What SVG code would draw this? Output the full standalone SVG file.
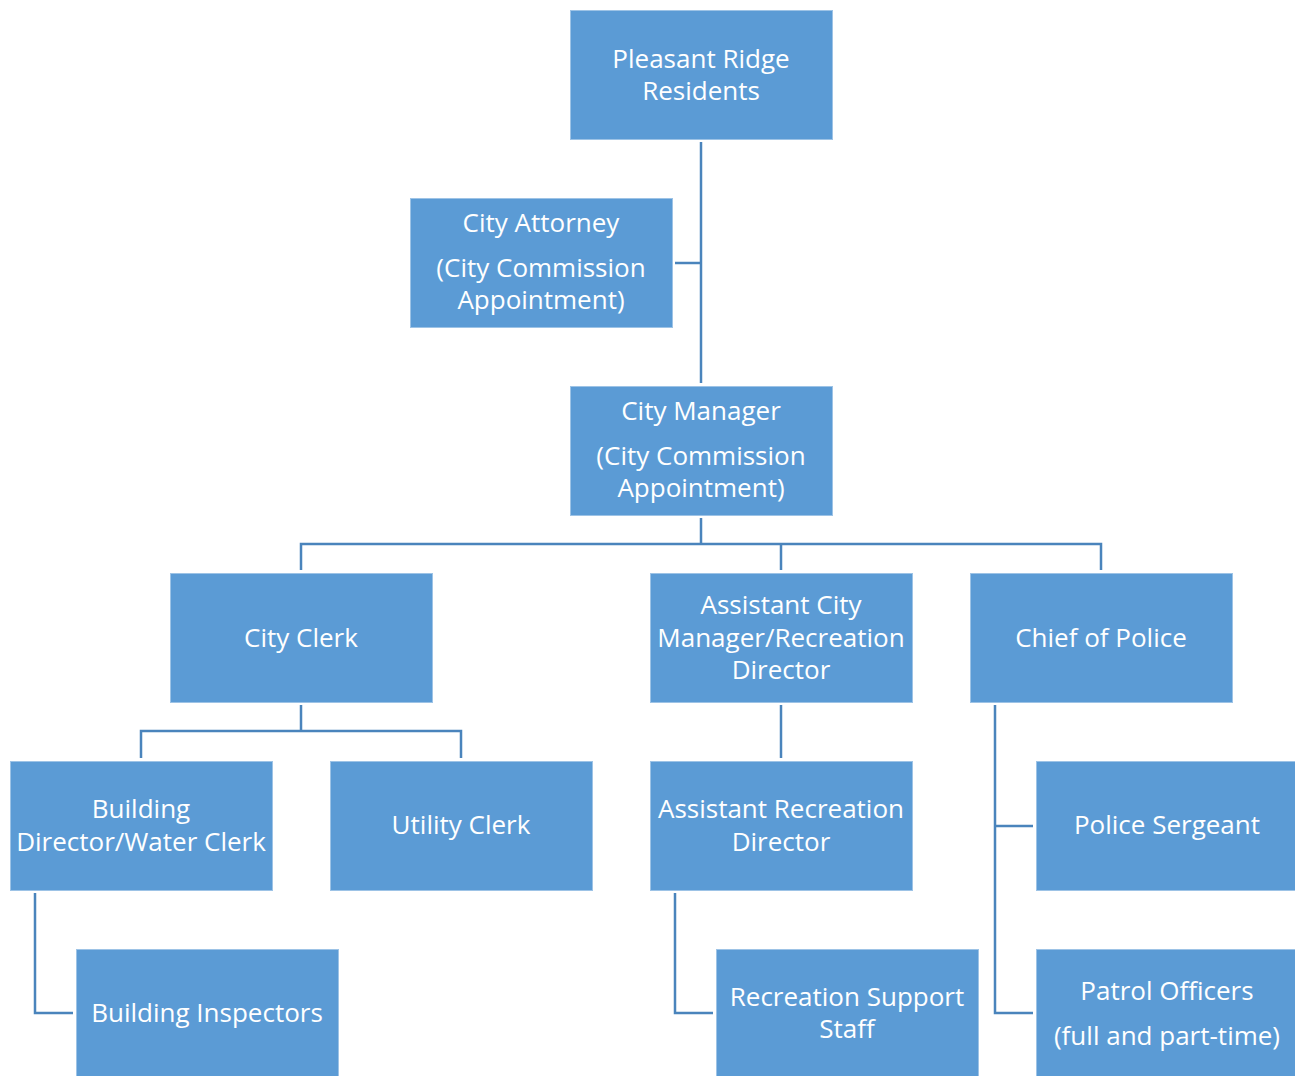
<svg xmlns="http://www.w3.org/2000/svg" width="1295" height="1076" viewBox="0 0 1295 1076">
<style>
.box{fill:#5B9BD5;stroke:#9DC3E6;stroke-width:1}
.t{font-family:"Open Sans","Noto Sans",sans-serif;font-size:26px;fill:#FFFFFF;text-anchor:middle}
.c{fill:none;stroke:#4A84BC;stroke-width:2.5}
</style>
<rect width="1295" height="1076" fill="#FFFFFF"/>
<g id="connectors">
<path class="c" d="M701 142V383"/>
<path class="c" d="M675 263H701"/>
<path class="c" d="M701 518V544M301 570V544H1101V570M781 544V570"/>
<path class="c" d="M301 705V731M141 758V731H461V758"/>
<path class="c" d="M781 705V758"/>
<path class="c" d="M35 893V1013H73"/>
<path class="c" d="M675 893V1013H713"/>
<path class="c" d="M995 705V1013H1033M995 826H1033"/>
</g>
<g id="residents"><rect class="box" x="570.5" y="10.5" width="262" height="129"/><text class="t" x="701" y="68">Pleasant Ridge</text><text class="t" x="701" y="100">Residents</text></g>
<g id="attorney"><rect class="box" x="410.5" y="198.5" width="262" height="129"/><text class="t" x="541" y="232">City Attorney</text><text class="t" x="541" y="277">(City Commission</text><text class="t" x="541" y="309">Appointment)</text></g>
<g id="manager"><rect class="box" x="570.5" y="386.5" width="262" height="129"/><text class="t" x="701" y="420">City Manager</text><text class="t" x="701" y="465">(City Commission</text><text class="t" x="701" y="497">Appointment)</text></g>
<g id="clerk"><rect class="box" x="170.5" y="573.5" width="262" height="129"/><text class="t" x="301" y="647">City Clerk</text></g>
<g id="asst-manager"><rect class="box" x="650.5" y="573.5" width="262" height="129"/><text class="t" x="781" y="614">Assistant City</text><text class="t" x="781" y="647">Manager/Recreation</text><text class="t" x="781" y="679">Director</text></g>
<g id="police-chief"><rect class="box" x="970.5" y="573.5" width="262" height="129"/><text class="t" x="1101" y="647">Chief of Police</text></g>
<g id="building-director"><rect class="box" x="10.5" y="761.5" width="262" height="129"/><text class="t" x="141" y="818">Building</text><text class="t" x="141" y="851">Director/Water Clerk</text></g>
<g id="utility-clerk"><rect class="box" x="330.5" y="761.5" width="262" height="129"/><text class="t" x="461" y="834">Utility Clerk</text></g>
<g id="asst-rec"><rect class="box" x="650.5" y="761.5" width="262" height="129"/><text class="t" x="781" y="818">Assistant Recreation</text><text class="t" x="781" y="851">Director</text></g>
<g id="sergeant"><rect class="box" x="1036.5" y="761.5" width="262" height="129"/><text class="t" x="1167" y="834">Police Sergeant</text></g>
<g id="inspectors"><rect class="box" x="76.5" y="949.5" width="262" height="129"/><text class="t" x="207" y="1022">Building Inspectors</text></g>
<g id="rec-staff"><rect class="box" x="716.5" y="949.5" width="262" height="129"/><text class="t" x="847" y="1006">Recreation Support</text><text class="t" x="847" y="1038">Staff</text></g>
<g id="patrol"><rect class="box" x="1036.5" y="949.5" width="262" height="129"/><text class="t" x="1167" y="1000">Patrol Officers</text><text class="t" x="1167" y="1045">(full and part-time)</text></g>
</svg>
